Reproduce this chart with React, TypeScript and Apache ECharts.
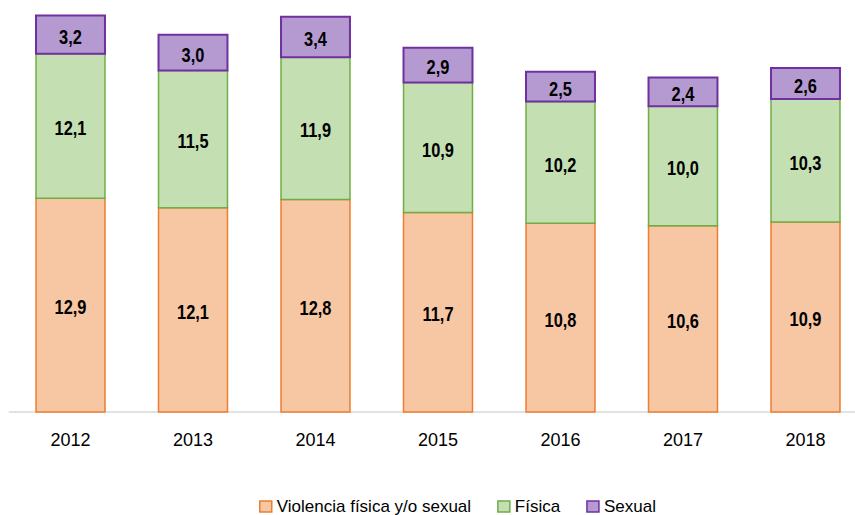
import React, { useEffect, useRef } from "react";
import * as echarts from "echarts";

const years = ["2012", "2013", "2014", "2015", "2016", "2017", "2018"];
const violencia = [12.9, 12.1, 12.8, 11.7, 10.8, 10.6, 10.9];
const fisica = [12.1, 11.5, 11.9, 10.9, 10.2, 10.0, 10.3];
const sexual = [3.2, 3.0, 3.4, 2.9, 2.5, 2.4, 2.6];

const Y_MIN = -5;
const Y_MAX = 29.5;

const FONT = '"Liberation Sans", Arial, sans-serif';

const layers = [
  { name: "Violencia física y/o sexual", values: violencia, fill: "#F7C7A4", stroke: "#ED7D31", lw: 1.5 },
  { name: "Física", values: fisica, fill: "#C4DFB2", stroke: "#70AD47", lw: 1.5 },
  { name: "Sexual", values: sexual, fill: "#B49AD0", stroke: "#7030A0", lw: 2 },
];

const fmt = (v: number) => v.toFixed(1).replace(".", ",");

export default function App() {
  const ref = useRef<HTMLDivElement>(null);
  useEffect(() => {
    document.body.style.margin = "0";
    if (!ref.current) return;
    const chart = echarts.init(ref.current, undefined, { renderer: "svg" });
    const bases = layers.map((_, li) =>
      years.map((__, i) => {
        let b = Y_MIN;
        for (let k = 0; k < li; k++) b = k === 0 ? layers[k].values[i] : b + layers[k].values[i];
        return b;
      })
    );
    const series = layers.map((layer, li) => ({
      name: layer.name,
      type: "custom",
      itemStyle: { color: layer.fill, borderColor: layer.stroke, borderWidth: layer.lw },
      data: years.map((y, i) => [i, layer.values[i], bases[li][i]]),
      encode: { x: 0, y: 1 },
      renderItem: (params: any, api: any) => {
        const idx = api.value(0);
        const val = api.value(1);
        const base = api.value(2);
        const top = li === 0 ? val : base + val;
        const p0 = api.coord([idx, base]);
        const p1 = api.coord([idx, top]);
        const bw = api.size([1, 0])[0] * 0.563;
        const x = p0[0] - bw / 2;
        return {
          type: "group",
          children: [
            {
              type: "rect",
              shape: { x, y: p1[1], width: bw, height: p0[1] - p1[1] },
              style: { fill: layer.fill, stroke: layer.stroke, lineWidth: layer.lw },
            },
            {
              type: "text",
              x: p0[0],
              y: (p0[1] + p1[1]) / 2 + 2,
              scaleX: 0.82,
              style: {
                text: fmt(val),
                align: "center",
                verticalAlign: "middle",
                fill: "#000",
                font: `bold 20px ${FONT}`,
              },
            },
          ],
        };
      },
    }));
    chart.setOption({
      animation: false,
      grid: { left: 9.25, width: 857.5, top: 0, height: 412 },
      xAxis: {
        type: "category",
        data: years,
        axisLine: { onZero: false, lineStyle: { color: "#D9D9D9", width: 1.5 } },
        axisTick: { show: false },
        axisLabel: { color: "#000", fontSize: 18, fontFamily: FONT, margin: 19 },
      },
      yAxis: { type: "value", min: Y_MIN, max: Y_MAX, show: false, splitLine: { show: false } },
      legend: {
        top: 493,
        left: 254,
        itemWidth: 12,
        itemHeight: 11,
        itemGap: 26,
        textStyle: { color: "#000", fontSize: 17, fontFamily: FONT },
        data: layers.map((l) => ({
          name: l.name,
          icon: "rect",
          itemStyle: { color: l.fill, borderColor: l.stroke, borderWidth: 1.5 },
        })),
      },
      series,
    });
    return () => chart.dispose();
  }, []);
  return (
    <div style={{ width: 855, height: 515, overflow: "hidden" }}>
      <div ref={ref} style={{ width: 867, height: 515 }} />
    </div>
  );
}
